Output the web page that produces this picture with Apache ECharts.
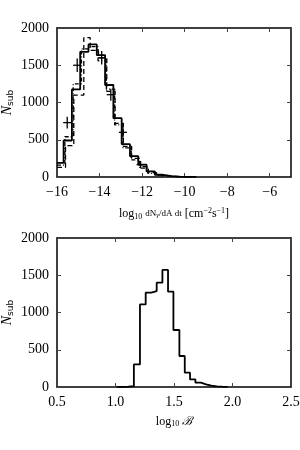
<!DOCTYPE html>
<html><head><meta charset="utf-8">
<script src="https://cdn.jsdelivr.net/npm/echarts@6/dist/echarts.min.js"></script>
<style>html,body{margin:0;padding:0;background:#fff}#c{width:300px;height:450px}</style>
</head><body><div id="c"></div>
<script>
// ---- top panel: flux histograms ----
const fluxEdgesSolid = [-16.0, -15.69, -15.30, -14.91, -14.52, -14.13, -13.74, -13.35, -12.96, -12.57, -12.18, -11.79, -11.40, -11.01, -10.62, -10.23, -9.84, -9.45];
const fluxCountsSolid = [190, 490, 1175, 1680, 1780, 1637, 1235, 790, 440, 280, 165, 75, 30, 12, 5, 2, 1];
const fluxEdgesDash = [-16.0, -15.60, -15.21, -14.74, -14.44, -14.05, -13.66, -13.27, -12.88, -12.49, -12.10, -11.71, -11.32, -10.93, -10.54, -10.15, -9.76];
const fluxCountsDash = [130, 420, 1100, 1870, 1700, 1600, 1150, 720, 410, 250, 140, 60, 25, 10, 4, 1];
const fluxEdgesDot = [-16.0, -15.63, -15.24, -14.85, -14.46, -14.07, -13.68, -13.29, -12.90, -12.51, -12.12, -11.73, -11.34, -10.95, -10.56, -10.17];
const fluxCountsDot = [160, 540, 1250, 1720, 1750, 1560, 1180, 700, 390, 230, 120, 50, 20, 8, 3];
const errX = [-15.52, -15.05, -13.90, -13.47, -12.90, -12.07];
const errY = [730, 1500, 1600, 1105, 600, 165];
const errXHalf = [0.19, 0.19, 0.19, 0.19, 0.19, 0.19];
const errYHalf = [80, 90, 90, 80, 70, 50];
const fluxTicks = [-16, -14, -12, -10, -8, -6];

// ---- bottom panel: boost histogram ----
const boostEdges = [1.01, 1.06, 1.11, 1.157, 1.209, 1.258, 1.306, 1.352, 1.401, 1.449, 1.495, 1.546, 1.592, 1.637, 1.683, 1.729, 1.774, 1.82, 1.866, 1.912, 1.958];
const boostCounts = [3, 5, 12, 303, 1109, 1266, 1288, 1400, 1572, 1279, 765, 416, 192, 102, 58, 35, 18, 9, 4, 2];
const boostTicks = ['0.5', '1.0', '1.5', '2.0', '2.5'];
const countTicks = [0, 500, 1000, 1500, 2000];

function stepData(edges, counts) {
  const d = [];
  for (let i = 0; i < counts.length; i++) d.push([edges[i], counts[i]]);
  d.push([edges[counts.length], counts[counts.length - 1]]);
  d.push([edges[counts.length], 0]);
  return d;
}

const FONT = 'Liberation Serif';
const minus = v => (v < 0 ? '\u2212' + Math.abs(v) : String(v));

function xAxisBase(gi, min, max, interval, fmt, name, rich, gap) {
  return [{
    type: 'value', gridIndex: gi, min, max, interval, position: 'bottom',
    axisLine: { show: true, onZero: false, lineStyle: { color: '#000', width: 1.5 } },
    axisTick: { show: true, inside: true, length: 4, lineStyle: { color: '#444' } },
    splitLine: { show: false },
    axisLabel: { show: true, fontFamily: FONT, fontSize: 14, color: '#000', margin: 8, formatter: fmt, showMaxLabel: true, hideOverlap: false },
    name, nameLocation: 'middle', nameGap: gap, nameMoveOverlap: false,
    nameTextStyle: { fontFamily: FONT, fontSize: 12, color: '#000', rich }
  }, {
    type: 'value', gridIndex: gi, min, max, interval, position: 'top',
    axisLine: { show: true, onZero: false, lineStyle: { color: '#000', width: 1.5 } },
    axisTick: { show: true, inside: true, length: 4, lineStyle: { color: '#444' } },
    splitLine: { show: false }, axisLabel: { show: false }
  }];
}
function yAxisBase(gi) {
  return [{
    type: 'value', gridIndex: gi, min: 0, max: 2000, interval: 500, position: 'left',
    axisLine: { show: true, onZero: false, lineStyle: { color: '#000', width: 1.5 } },
    axisTick: { show: true, inside: true, length: 4, lineStyle: { color: '#444' } },
    splitLine: { show: false },
    axisLabel: { fontFamily: FONT, fontSize: 14, color: '#000', margin: 8,
      formatter: v => countTicks.includes(v) ? String(v) : '' },
    name: '{n|N}{s|sub}', nameLocation: 'middle', nameGap: 42, nameRotate: 90, nameMoveOverlap: false,
    nameTextStyle: { rich: {
      n: { fontFamily: FONT, fontStyle: 'italic', fontSize: 14, color: '#000' },
      s: { fontFamily: 'DejaVu Sans', fontSize: 9, color: '#000', padding: [7, 0, 0, 0] }
    } }
  }, {
    type: 'value', gridIndex: gi, min: 0, max: 2000, interval: 500, position: 'right',
    axisLine: { show: true, onZero: false, lineStyle: { color: '#000', width: 1.5 } },
    axisTick: { show: true, inside: true, length: 4, lineStyle: { color: '#444' } },
    splitLine: { show: false }, axisLabel: { show: false }
  }];
}

const richTop = {
  l: { fontFamily: FONT, fontSize: 12, color: '#000' },
  s: { fontFamily: FONT, fontSize: 8, color: '#000', padding: [5, 0, 0, 0] },
  f: { fontFamily: FONT, fontSize: 9, color: '#000' },
  fs: { fontFamily: FONT, fontSize: 7, fontStyle: 'italic', color: '#000', padding: [3, 0, 0, 0] },
  p: { fontFamily: FONT, fontSize: 8, color: '#000', padding: [0, 0, 6, 0] }
};
const richBot = {
  l: { fontFamily: FONT, fontSize: 12, color: '#000' },
  s: { fontFamily: FONT, fontSize: 8, color: '#000', padding: [5, 0, 0, 0] },
  b: { fontFamily: 'DejaVu Serif', fontStyle: 'italic', fontSize: 12, color: '#000' }
};

const xAxes = [
  ...xAxisBase(0, -16, -5, 2, v => (fluxTicks.includes(v) ? minus(v) : ''),
    '{l|log}{s|10} {f|dN}{fs|\u03b3}{f|/dA dt} {l|[cm}{p|\u22122}{l|s}{p|\u22121}{l|]}', richTop, 30),
  ...xAxisBase(1, 0.5, 2.5, 0.5, v => { const t = v.toFixed(1); return boostTicks.includes(t) ? t : ''; },
    '{l|log}{s|10} {b|\u212c}', richBot, 28)
];
const yAxes = [...yAxisBase(0), ...yAxisBase(1)];

const lineCommon = { type: 'line', step: 'end', showSymbol: false, symbol: 'none', silent: true, clip: true, animation: false };

const option = {
  animation: false,
  grid: [
    { left: 57, right: 9, top: 28, height: 149, outerBoundsMode: 'none', containLabel: false },
    { left: 57, right: 9, top: 238, height: 149, outerBoundsMode: 'none', containLabel: false }
  ],
  xAxis: xAxes,
  yAxis: yAxes,
  series: [
    Object.assign({}, lineCommon, { xAxisIndex: 0, yAxisIndex: 0, data: stepData(fluxEdgesDot, fluxCountsDot),
      lineStyle: { color: '#000', width: 1.3, type: [4, 2, 1, 2] } }),
    Object.assign({}, lineCommon, { xAxisIndex: 0, yAxisIndex: 0, data: stepData(fluxEdgesDash, fluxCountsDash),
      lineStyle: { color: '#000', width: 1.3, type: [5, 3] } }),
    Object.assign({}, lineCommon, { xAxisIndex: 0, yAxisIndex: 0, data: stepData(fluxEdgesSolid, fluxCountsSolid),
      lineStyle: { color: '#000', width: 1.8 } }),
    {
      type: 'custom', xAxisIndex: 0, yAxisIndex: 0, silent: true, animation: false,
      data: errX.map((x, i) => [x, errY[i], errXHalf[i], errYHalf[i]]),
      renderItem: (params, api) => {
        const x = api.value(0), y = api.value(1), dx = api.value(2), dy = api.value(3);
        const l = api.coord([x - dx, y]), r = api.coord([x + dx, y]);
        const t = api.coord([x, y + dy]), b = api.coord([x, y - dy]);
        const st = { stroke: '#000', lineWidth: 1.3 };
        return { type: 'group', children: [
          { type: 'line', shape: { x1: l[0], y1: l[1], x2: r[0], y2: r[1] }, style: st },
          { type: 'line', shape: { x1: t[0], y1: t[1], x2: b[0], y2: b[1] }, style: st }
        ] };
      }
    },
    Object.assign({}, lineCommon, { xAxisIndex: 2, yAxisIndex: 2, data: stepData(boostEdges, boostCounts),
      lineStyle: { color: '#000', width: 1.8 } })
  ]
};
const chart = echarts.init(document.getElementById('c'), null, { renderer: 'canvas' });
chart.setOption(option);
</script></body></html>
